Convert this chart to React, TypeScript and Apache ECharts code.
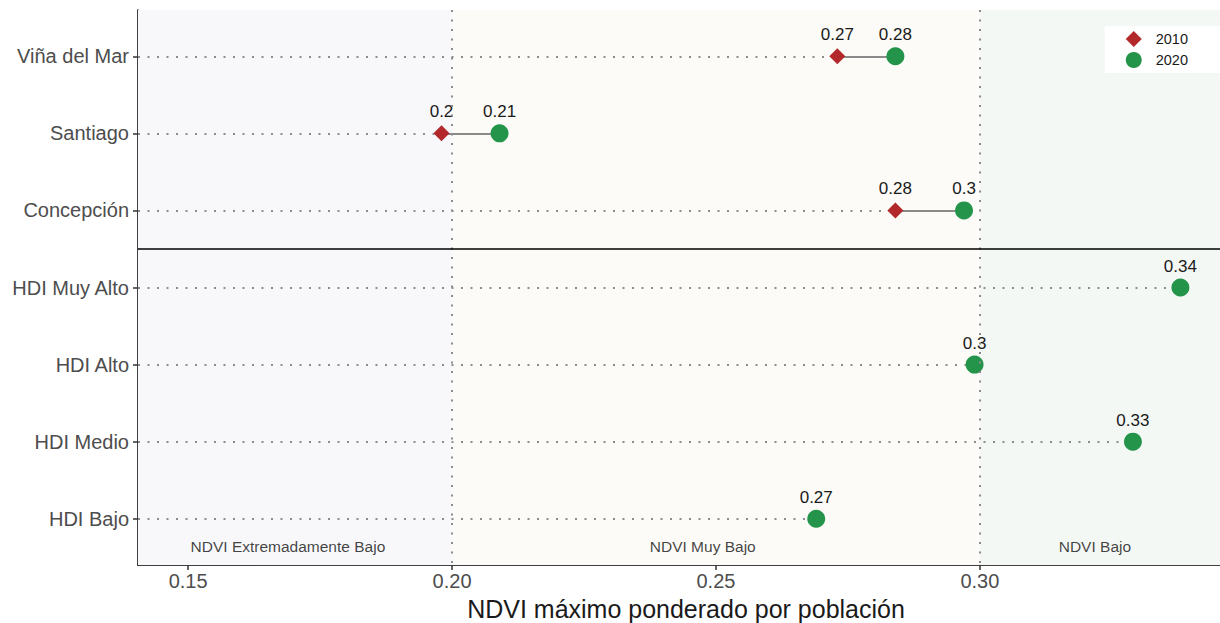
import React, { useEffect, useRef } from "react";
import * as echarts from "echarts";

const categories = ["Viña del Mar", "Santiago", "Concepción", "HDI Muy Alto", "HDI Alto", "HDI Medio", "HDI Bajo"];
const values2010: (number | null)[] = [0.273, 0.198, 0.284, null, null, null, null];
const values2020: number[] = [0.284, 0.209, 0.297, 0.338, 0.299, 0.329, 0.269];
const xTicks = [0.15, 0.2, 0.25, 0.3];
const xMin = 0.1405;
const xMax = 0.3455;
const bandBreaks = [0.2, 0.3];
const bandNames = ["NDVI Extremadamente Bajo", "NDVI Muy Bajo", "NDVI Bajo"];
const bandLabelX = [0.1689, 0.2475, 0.3218];
const bandColors = ["#f8f8fb", "#fcfbf7", "#f4f8f5"];
const groupSplit = 2.5;

const fmt = (v: number) => String(Number(v.toFixed(2)));
const FONT = "Liberation Sans, Arial, sans-serif";
const DOT = { color: "#8c8c8c", width: 2, type: [2, 7.5], cap: "butt" };

export default function App() {
  const ref = useRef<HTMLDivElement>(null);
  useEffect(() => {
    if (!ref.current) return;
    const chart = echarts.init(ref.current, null, { renderer: "svg" });
    const idx = categories.map((_, i) => i);
    const guideData = idx.map((i) => {
      const a = values2010[i];
      const end = a != null ? Math.min(a, values2020[i]) : values2020[i];
      return { coords: [[xMin, i], [end, i]] };
    });
    const connData = idx
      .filter((i) => values2010[i] != null)
      .map((i) => ({ coords: [[values2010[i] as number, i], [values2020[i], i]] }));
    const bounds = [xMin, ...bandBreaks, xMax];
    chart.setOption({
      animation: false,
      textStyle: { fontFamily: FONT },
      grid: { left: 138, right: 0, top: 10, bottom: 58, outerBoundsMode: "none", containLabel: false },
      legend: {
        data: [
          { name: "2010", icon: "diamond", itemStyle: { color: "#b2282b" } },
          { name: "2020", icon: "circle", itemStyle: { color: "#23944a" } },
        ],
        orient: "vertical",
        right: 0,
        top: 26,
        padding: [5, 32, 5, 21],
        itemGap: 5,
        itemWidth: 16,
        itemHeight: 16,
        backgroundColor: "#ffffff",
        textStyle: { fontSize: 14.5, color: "#1a1a1a", fontFamily: FONT, padding: [0, 0, 0, 9] },
      },
      xAxis: {
        type: "value",
        min: xMin,
        max: xMax,
        splitLine: { show: false },
        axisLine: { onZero: false, lineStyle: { color: "#000", width: 1.5 } },
        axisTick: { show: true, length: 5, customValues: xTicks, lineStyle: { color: "#333", width: 1.5 } },
        axisLabel: {
          customValues: xTicks,
          formatter: (v: number) => v.toFixed(2),
          fontSize: 20,
          color: "#4d4d4d",
          margin: 6,
          fontFamily: FONT,
        },
        name: "NDVI máximo ponderado por población",
        nameLocation: "middle",
        nameGap: 31,
        nameTextStyle: { fontSize: 25, color: "#1a1a1a", fontFamily: FONT, padding: [0, 0, 0, 14] },
      },
      yAxis: {
        type: "value",
        min: -0.6,
        max: 6.6,
        inverse: true,
        splitLine: { show: false },
        axisLine: { show: true, onZero: false, lineStyle: { color: "#000", width: 1.5 } },
        axisTick: { show: true, length: 5, customValues: idx, lineStyle: { color: "#333", width: 1.5 } },
        axisLabel: {
          customValues: idx,
          formatter: (v: number) => categories[Math.round(v)] ?? "",
          fontSize: 20,
          color: "#4d4d4d",
          margin: 9,
          fontFamily: FONT,
        },
      },
      series: [
        {
          name: "bg",
          type: "line",
          data: [],
          silent: true,
          z: 0,
          markArea: {
            silent: true,
            data: bandColors.map((c, i) => [
              { xAxis: bounds[i], itemStyle: { color: c } },
              { xAxis: bounds[i + 1] },
            ]),
          },
          markLine: {
            silent: true,
            symbol: "none",
            label: { show: false },
            data: [
              ...bandBreaks.map((b) => ({ xAxis: b, lineStyle: DOT })),
              { yAxis: groupSplit, lineStyle: { color: "#000", width: 1.5, type: "solid" } },
            ],
          },
        },
        {
          name: "guides",
          type: "lines",
          coordinateSystem: "cartesian2d",
          silent: true,
          z: 1,
          lineStyle: { ...DOT, opacity: 1 },
          data: guideData,
        },
        {
          name: "conn",
          type: "lines",
          coordinateSystem: "cartesian2d",
          silent: true,
          z: 2,
          lineStyle: { color: "#8a8a8a", width: 2, type: "solid", opacity: 1 },
          data: connData,
        },
        {
          name: "2010",
          type: "scatter",
          symbol: "diamond",
          symbolSize: [16, 16],
          z: 3,
          itemStyle: { color: "#b2282b", opacity: 1 },
          data: idx.filter((i) => values2010[i] != null).map((i) => [values2010[i], i]),
          label: {
            show: true,
            position: "top",
            distance: 5,
            formatter: (p: any) => fmt(p.value[0]),
            fontSize: 17,
            color: "#1a1a1a",
            fontFamily: FONT,
          },
        },
        {
          name: "2020",
          type: "scatter",
          symbol: "circle",
          symbolSize: 18,
          z: 4,
          itemStyle: { color: "#23944a", opacity: 1 },
          data: idx.map((i) => [values2020[i], i]),
          label: {
            show: true,
            position: "top",
            distance: 4,
            formatter: (p: any) => fmt(p.value[0]),
            fontSize: 17,
            color: "#1a1a1a",
            fontFamily: FONT,
          },
        },
        {
          name: "bandLabels",
          type: "scatter",
          symbolSize: 0,
          silent: true,
          z: 5,
          data: bandNames.map((n, i) => ({ value: [bandLabelX[i], 6.36], name: n })),
          label: {
            show: true,
            position: "inside",
            formatter: (p: any) => p.name,
            fontSize: 15.5,
            color: "#111",
            fontFamily: FONT,
          },
        },
      ],
    });
    return () => chart.dispose();
  }, []);
  return <div ref={ref} style={{ position: "absolute", left: 0, top: 0, width: 1220, height: 623 }} />;
}
